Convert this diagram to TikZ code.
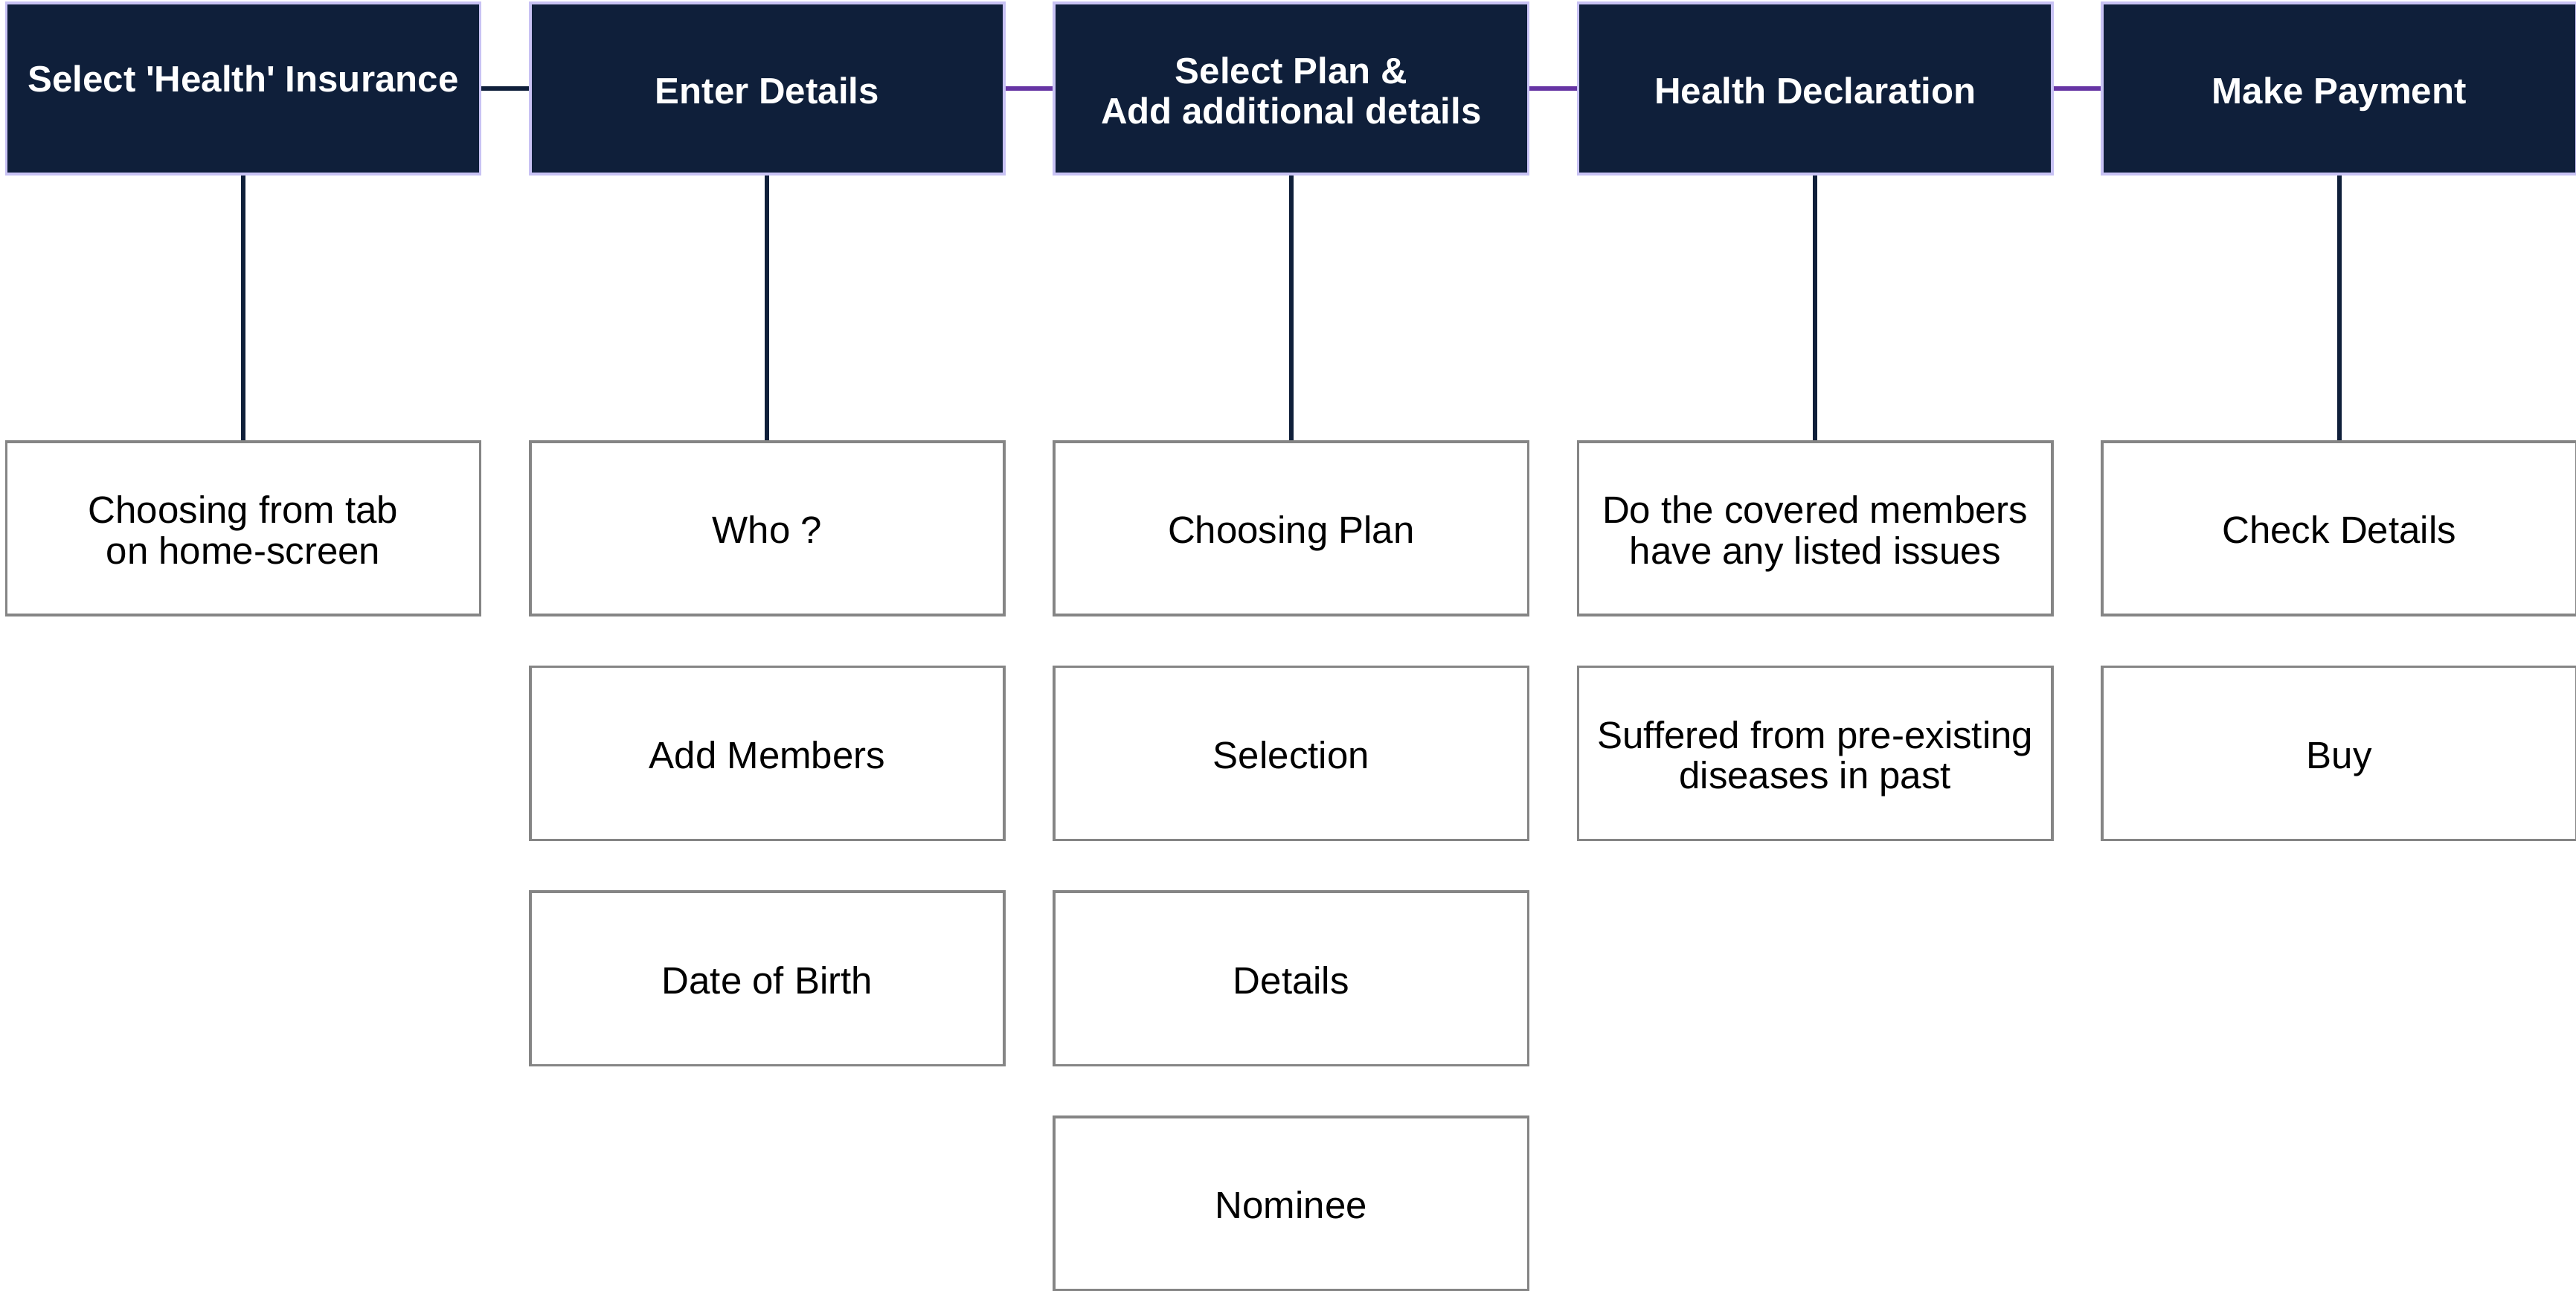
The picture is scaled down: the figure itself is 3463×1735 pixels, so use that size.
\documentclass[tikz,border=0pt]{standalone}
\usepackage{fontspec}
\setmainfont{Liberation Sans}
\usepackage{tikz}
\usetikzlibrary{positioning}
\definecolor{navy}{HTML}{0F1F3A}
\definecolor{lilac}{HTML}{C8C2F4}
\definecolor{linkpurple}{HTML}{6634A4}
\definecolor{boxgray}{HTML}{858585}
% text block, set a little lower than the geometric centre
\newcommand\celltext[2][-2.7pt]{\raisebox{#1}[\height][\depth]{\begin{tabular}{@{}c@{}}#2\end{tabular}}}

\begin{document}
\begin{tikzpicture}[x=0.01cm,y=-0.01cm,
    stage/.style={draw=lilac,line width=1pt,fill=navy,text=white,
        font=\bfseries\fontsize{14}{15.5}\selectfont,
        minimum width=6.37cm,minimum height=2.3cm,inner sep=0pt},
    task/.style={draw=boxgray,line width=1pt,fill=white,
        font=\fontsize{14.5}{15.5}\selectfont,
        minimum width=6.37cm,minimum height=2.33cm,inner sep=0pt},
    flow/.style={line width=1.7pt},
    drop/.style={navy,line width=1.7pt}]
    \useasboundingbox (0,0) rectangle (3463,1735);

    % stages
    \node[stage] (s1) at (327,119) {\celltext[1.8pt]{Select \textquotesingle Health\textquotesingle{} Insurance}};
    \node[stage,right=0.635cm of s1] (s2) {\celltext{Enter Details}};
    \node[stage,right=0.635cm of s2] (s3) {\celltext{Select Plan \&\\Add additional details}};
    \node[stage,right=0.635cm of s3] (s4) {\celltext{Health Declaration}};
    \node[stage,right=0.635cm of s4] (s5) {\celltext{Make Payment}};

    % tasks
    \node[task,below=3.56cm of s1] (t1a) {\celltext{Choosing from tab\\on home-screen}};
    \node[task,below=3.56cm of s2] (t2a) {\celltext{Who ?}};
    \node[task,below=0.66cm of t2a] (t2b) {\celltext{Add Members}};
    \node[task,below=0.66cm of t2b] (t2c) {\celltext{Date of Birth}};
    \node[task,below=3.56cm of s3] (t3a) {\celltext{Choosing Plan}};
    \node[task,below=0.66cm of t3a] (t3b) {\celltext{Selection}};
    \node[task,below=0.66cm of t3b] (t3c) {\celltext{Details}};
    \node[task,below=0.66cm of t3c] (t3d) {\celltext{Nominee}};
    \node[task,below=3.56cm of s4] (t4a) {\celltext{Do the covered members\\have any listed issues}};
    \node[task,below=0.66cm of t4a] (t4b) {\celltext{Suffered from pre-existing\\diseases in past}};
    \node[task,below=3.56cm of s5] (t5a) {\celltext{Check Details}};
    \node[task,below=0.66cm of t5a] (t5b) {\celltext{Buy}};

    \draw[flow,navy] (s1) -- (s2);
    \draw[flow,linkpurple] (s2) -- (s3);
    \draw[flow,linkpurple] (s3) -- (s4);
    \draw[flow,linkpurple] (s4) -- (s5);

    \draw[drop] (s1) -- (t1a);
    \draw[drop] (s2) -- (t2a);
    \draw[drop] (s3) -- (t3a);
    \draw[drop] (s4) -- (t4a);
    \draw[drop] (s5) -- (t5a);
\end{tikzpicture}
\end{document}
